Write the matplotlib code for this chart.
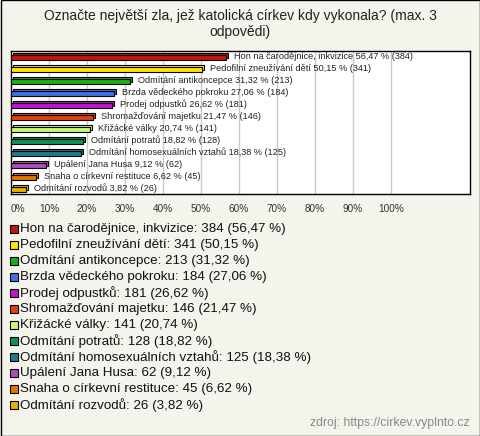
import matplotlib
matplotlib.use("Agg")
import matplotlib.pyplot as plt
from matplotlib.patches import Rectangle

# --- data ---
names = ["Hon na čarodějnice, inkvizice", "Pedofilní zneužívání dětí",
         "Odmítání antikoncepce", "Brzda vědeckého pokroku", "Prodej odpustků",
         "Shromažďování majetku", "Křižácké války", "Odmítání potratů",
         "Odmítání homosexuálních vztahů", "Upálení Jana Husa",
         "Snaha o církevní restituce", "Odmítání rozvodů"]
counts = [384, 341, 213, 184, 181, 146, 141, 128, 125, 62, 45, 26]
pcts = [56.47, 50.15, 31.32, 27.06, 26.62, 21.47, 20.74, 18.82, 18.38, 9.12, 6.62, 3.82]
colors = ["#c0180c", "#ffe400", "#18b018", "#4070e4", "#c414cc", "#e0400c",
          "#c8f878", "#109058", "#1e7890", "#b04cbc", "#e07800", "#e8b000"]
xticks = [0, 10, 20, 30, 40, 50, 60, 70, 80, 90, 100]

title = "Označte největší zla, jež katolická církev kdy vykonala? (max. 3\nodpovědi)"
source = "zdroj: https://cirkev.vyplnto.cz"

plt.rcParams['font.family'] = ['Liberation Sans', 'DejaVu Sans']
BG = "#f4f3ec"
W, H = 480, 436

fig = plt.figure(figsize=(4.8, 4.36), dpi=100, facecolor=BG)

# plot box in pixels: left 11, right 470, top 51, bottom 194
ax = fig.add_axes([11 / W, 1 - 194 / H, 459 / W, 143 / H])
ax.set_facecolor("white")
ax.set_xlim(0, 120.8)
ax.set_ylim(11.37, -0.54)

for s in ax.spines.values():
    s.set_color("black")
    s.set_linewidth(1)

for xv in xticks[1:]:
    ax.axvline(xv, color="#c8c8c8", lw=1, zorder=0)

def fmt(v):
    return f"{v:.2f}".replace(".", ",")

bh = 0.38   # front face height
dx = 0.55   # 3D offset in %
dy = 0.17   # 3D offset in rows
for i, (p, c) in enumerate(zip(pcts, colors)):
    # back face (gives the fake 3D look)
    ax.barh(i - dy, p, left=dx, height=bh, color=c, edgecolor="black",
            linewidth=0.8, zorder=2)
    ax.barh(i, p, height=bh, color=c, edgecolor="black", linewidth=0.8, zorder=3)
    ax.annotate(f"{names[i]} {fmt(p)} % ({counts[i]})", (p, i - 0.08),
                xytext=(6, 0), textcoords="offset points", va="center",
                ha="left", fontsize=6.6, color="#222222", zorder=4)

ax.set_yticks([])
ax.set_xticks(xticks)
ax.set_xticklabels([f"{t}%" for t in xticks], fontsize=7.2, color="#333333")
ax.tick_params(axis="x", length=0, pad=7)
ax.get_xticklabels()[0].set_ha("left")

fig.text(0.5, 1 - 9 / H, title, ha="center", va="top", fontsize=10,
         color="#222222", linespacing=1.15)

# legend
for i, (n, c) in enumerate(zip(names, colors)):
    yc = 229 + 16 * i
    fig.patches.append(Rectangle((9.5 / W, 1 - (yc + 4) / H), 8 / W, 8 / H,
                                 transform=fig.transFigure, facecolor=c,
                                 edgecolor="black", linewidth=0.8))
    fig.text(20 / W, 1 - yc / H, f"{n}: {counts[i]} ({fmt(pcts[i])} %)",
             ha="left", va="center", fontsize=9.6, color="#111111")

fig.text(470 / W, 1 - 423 / H, source, ha="right", va="center", fontsize=8.8,
         color="#888888")

fig.patches.append(Rectangle((0.5 / W, 0.5 / H), 1 - 1 / W, 1 - 1 / H,
                             transform=fig.transFigure, fill=False,
                             edgecolor="black", linewidth=1))

fig.savefig("out.png", dpi=100, facecolor=BG)
